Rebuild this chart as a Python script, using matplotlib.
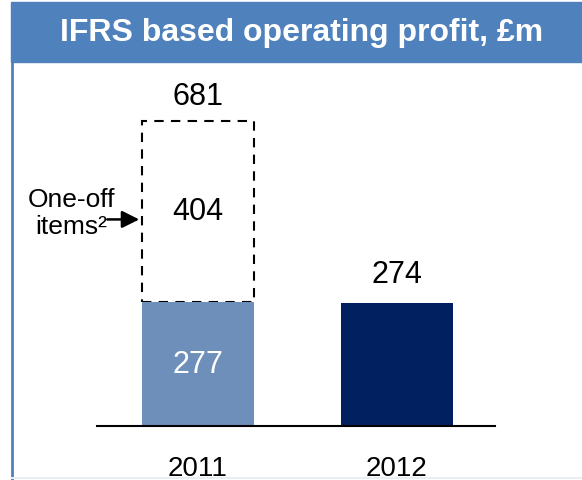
import matplotlib
matplotlib.use('Agg')
import matplotlib.pyplot as plt
from matplotlib.patches import Rectangle
from matplotlib.lines import Line2D

plt.rcParams['font.family'] = ['Liberation Sans', 'DejaVu Sans']

# data
years = ['2011', '2012']
base_profit = [277, 274]        # underlying operating profit
one_off = 404                   # one-off items in 2011
total_2011 = 681

title = 'IFRS based operating profit, £m'
banner_col = '#4f81bd'
bar_cols = ['#6f8fbb', '#00205f']

W, H = 582, 481
fig = plt.figure(figsize=(W/100, H/100), dpi=100)

# banner + frame (pixel -> figure fraction)
def fx(px): return px / W
def fy(py): return 1 - py / H

fig.patches.append(Rectangle((fx(11), fy(63)), fx(582-11), (63-3)/H,
                             transform=fig.transFigure, color=banner_col, zorder=0))
fig.text(fx(302), fy(33), title, color='white', fontsize=23, fontweight='bold',
         ha='center', va='center')
fig.add_artist(Line2D([fx(12), fx(12)], [fy(63), 0], transform=fig.transFigure,
                      color=banner_col, lw=2))
fig.add_artist(Line2D([fx(12), 1], [fy(479), fy(479)], transform=fig.transFigure,
                      color='#e8eef6', lw=1.5))

# chart area: baseline at y=427px, x from 97 to 495px
ax = fig.add_axes([fx(97), fy(427), fx(495-97), (427-63)/H])
ax.set_xlim(-0.5075, 1.4925)
ax.set_ylim(0, 812)
x = [0, 1]
bw = 0.563

# dashed box for one-off items
ax.bar(x[0], one_off, bw, bottom=base_profit[0], fill=False, edgecolor='black',
       linestyle=(0, (4.5, 3.5)), lw=1.5, zorder=1)
ax.bar(x, base_profit, bw, color=bar_cols, zorder=2)

ax.annotate(str(total_2011), (x[0], total_2011), xytext=(0, 18), textcoords='offset points',
            ha='center', va='center', fontsize=22)
ax.text(x[0], base_profit[0] + one_off/2, str(one_off), ha='center', va='center', fontsize=22)
ax.text(x[0], base_profit[0]/2, str(base_profit[0]), ha='center', va='center',
        fontsize=22, color='white', zorder=3)
ax.annotate(str(base_profit[1]), (x[1], base_profit[1]), xytext=(0, 21),
            textcoords='offset points', ha='center', va='center', fontsize=22)

# one-off items callout
arrow_y = base_profit[0] + one_off*0.455
ax.annotate('', xy=(x[0]-bw/2, arrow_y), xytext=(-25, 0), textcoords='offset points',
            arrowprops=dict(arrowstyle='-|>', color='black', lw=1.8, mutation_scale=26,
                            shrinkA=0, shrinkB=-2),
            annotation_clip=False)
ax.annotate('One-off\nitems²', (x[0]-bw/2, arrow_y), xytext=(-51, 5),
            textcoords='offset points', ha='center', va='center', fontsize=19,
            linespacing=1.15, annotation_clip=False)

for s in ['top', 'left', 'right']:
    ax.spines[s].set_visible(False)
ax.spines['bottom'].set_linewidth(1.5)
ax.set_yticks([])
ax.set_xticks(x)
ax.set_xticklabels(years, fontsize=20)
ax.tick_params(axis='x', length=0, pad=21)
ax.patch.set_alpha(0)

fig.savefig('out.png', dpi=100)
